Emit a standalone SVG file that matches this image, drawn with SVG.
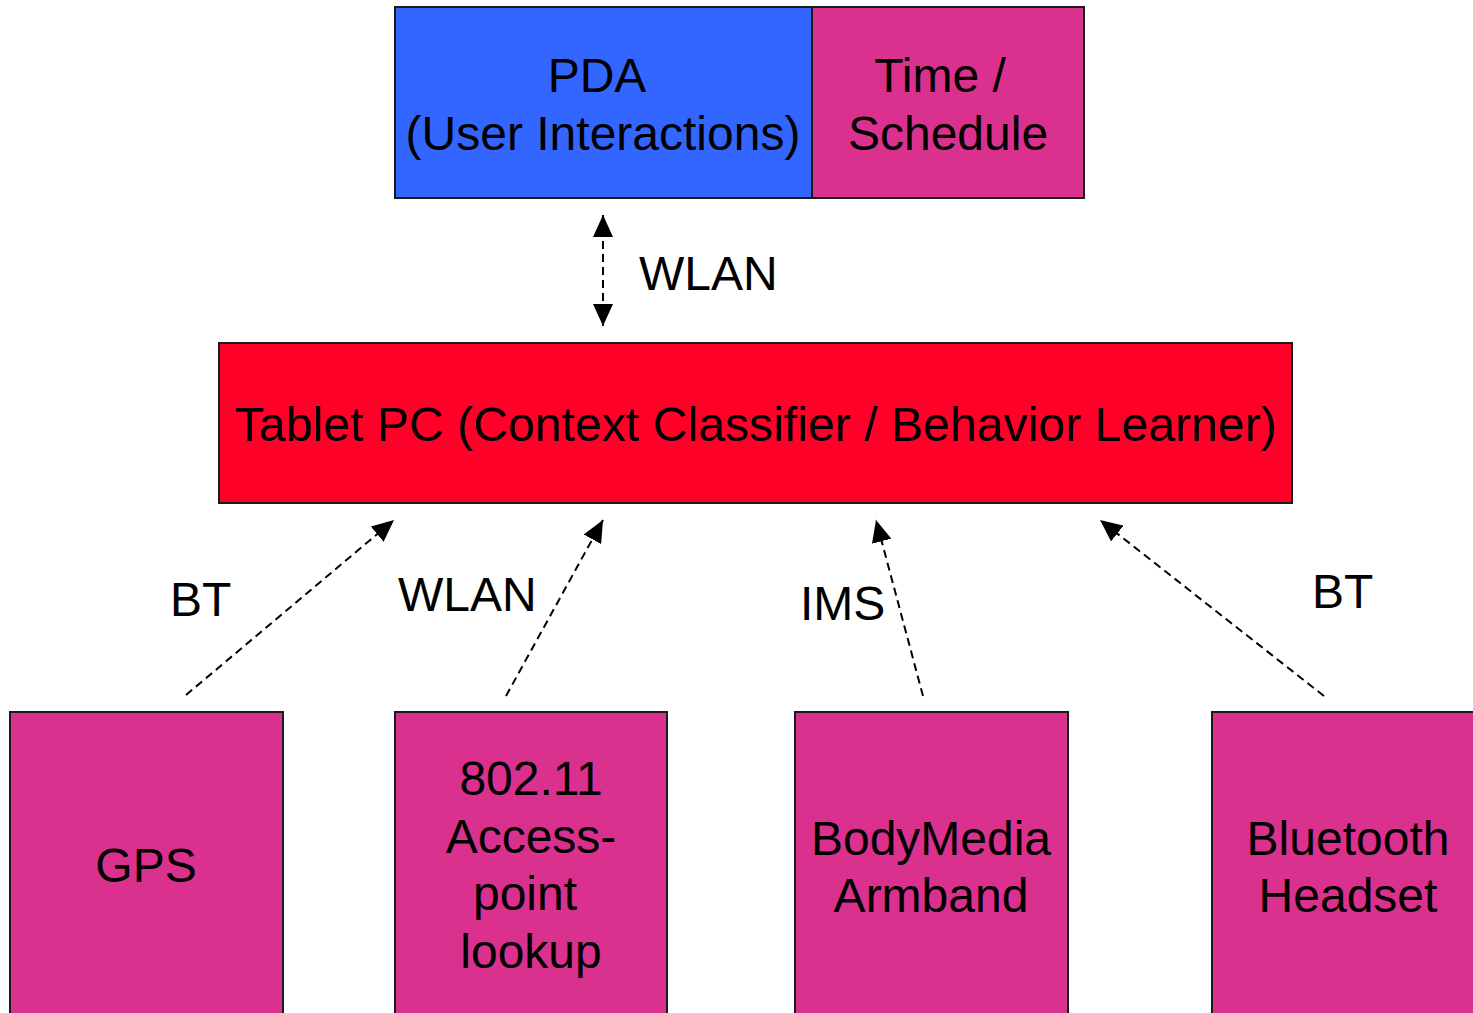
<svg xmlns="http://www.w3.org/2000/svg" width="1473" height="1013" viewBox="0 0 1473 1013">
<style>
.box{stroke:#1a1a1a;stroke-width:2}
.mag{fill:#D9318D}
.t{font-family:"Liberation Sans",Arial,sans-serif;font-size:48px;fill:#000;text-anchor:middle}
.l{font-family:"Liberation Sans",Arial,sans-serif;font-size:48px;fill:#000}
.c{fill:none;stroke:#000;stroke-width:2;stroke-dasharray:8 5}
</style>
<defs>
<marker id="ah" markerUnits="userSpaceOnUse" markerWidth="22" markerHeight="20" refX="22" refY="10" orient="auto-start-reverse" viewBox="0 0 22 20">
<path d="M0,0 L22,10 L0,20 Z" fill="#000"/>
</marker>
</defs>
<g id="pda">
<rect class="box" x="395" y="7" width="417" height="191" fill="#3366FF"/>
<text class="t" x="597" y="92">PDA</text>
<text class="t" x="603" y="150">(User Interactions)</text>
</g>
<g id="time">
<rect class="box mag" x="812" y="7" width="272" height="191"/>
<text class="t" x="940" y="92">Time /</text>
<text class="t" x="948" y="150">Schedule</text>
</g>
<g id="tablet">
<rect class="box" x="219" y="343" width="1073" height="160" fill="#FF0029"/>
<text class="t" x="756" y="441" textLength="1042" lengthAdjust="spacingAndGlyphs">Tablet PC (Context Classifier / Behavior Learner)</text>
</g>
<g id="gps">
<rect class="box" x="10" y="712" width="273" height="320" fill="#D9318D"/>
<text class="t" x="146" y="882">GPS</text>
</g>
<g id="ap">
<rect class="box" x="395" y="712" width="272" height="320" fill="#D9318D"/>
<text class="t" x="531" y="795">802.11</text>
<text class="t" x="531" y="853">Access-</text>
<text class="t" x="525" y="910">point</text>
<text class="t" x="531" y="968">lookup</text>
</g>
<g id="armband">
<rect class="box" x="795" y="712" width="273" height="320" fill="#D9318D"/>
<text class="t" x="931" y="855">BodyMedia</text>
<text class="t" x="931" y="912">Armband</text>
</g>
<g id="headset">
<rect class="box" x="1212" y="712" width="273" height="320" fill="#D9318D"/>
<text class="t" x="1348" y="855">Bluetooth</text>
<text class="t" x="1348" y="912">Headset</text>
</g>
<g id="connectors">
<line class="c" x1="603" y1="215" x2="603" y2="326" marker-start="url(#ah)" marker-end="url(#ah)"/>
<line class="c" x1="186" y1="695" x2="394" y2="520" marker-end="url(#ah)"/>
<line class="c" x1="506" y1="696" x2="603" y2="520" marker-end="url(#ah)"/>
<line class="c" x1="923" y1="696" x2="876" y2="520" marker-end="url(#ah)"/>
<line class="c" x1="1324" y1="696" x2="1100" y2="520" marker-end="url(#ah)"/>
</g>
<g id="labels">
<text class="l" x="639" y="290">WLAN</text>
<text class="l" x="170" y="616">BT</text>
<text class="l" x="398" y="611">WLAN</text>
<text class="l" x="800" y="620">IMS</text>
<text class="l" x="1312" y="608">BT</text>
</g>
</svg>
